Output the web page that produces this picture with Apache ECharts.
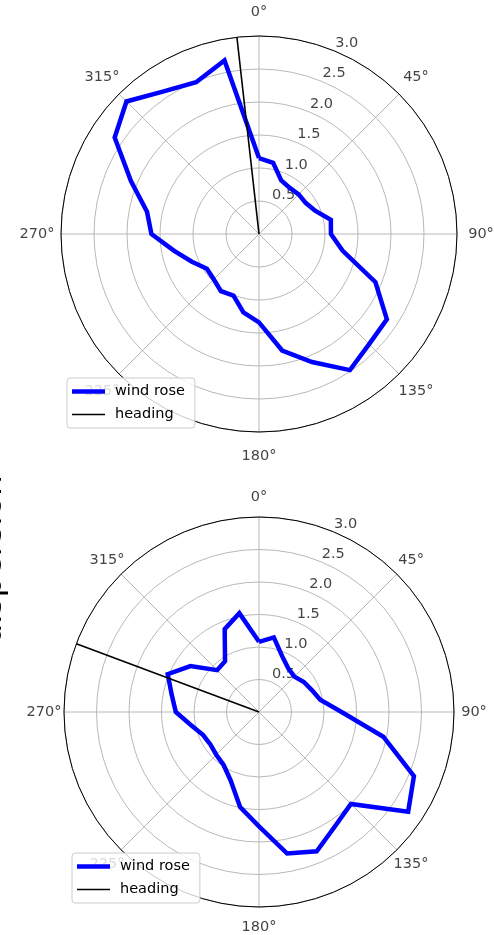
<!DOCTYPE html>
<html>
<head>
<meta charset="utf-8">
<script src="https://cdn.jsdelivr.net/npm/echarts@6/dist/echarts.min.js"></script>
<style>
  html, body { margin: 0; padding: 0; background: #ffffff; }
  #chart { width: 494px; height: 935px; }
</style>
</head>
<body>
<div id="chart"></div>
<script>
// Direction bins (degrees, clockwise from north)
const directions = [0, 11.25, 22.5, 33.75, 45, 56.25, 67.5, 78.75,
                    90, 101.25, 112.5, 123.75, 135, 146.25, 157.5, 168.75,
                    180, 191.25, 202.5, 213.75, 225, 236.25, 247.5, 258.75,
                    270, 281.25, 292.5, 303.75, 315, 326.25, 337.5, 348.75];

// Wind rose magnitudes per bin
const topRose = [1.15, 1.10, 0.88, 0.84, 0.85, 0.85, 0.92, 1.11,
                 1.09, 1.29, 1.91, 2.33, 2.36, 2.48, 2.10, 1.80,
                 1.34, 1.21, 1.01, 1.04, 0.97, 0.95, 1.10, 1.31,
                 1.63, 1.73, 2.10, 2.63, 2.84, 2.60, 2.49, 2.68];
const bottomRose = [1.08, 1.17, 0.93, 0.81, 0.77, 0.83, 0.88, 0.96,
                    1.27, 1.95, 2.58, 2.76, 2.00, 2.11, 2.32, 2.22,
                    1.76, 1.49, 1.14, 0.98, 0.93, 0.90, 0.93, 1.06,
                    1.28, 1.37, 1.52, 1.27, 0.91, 0.94, 1.38, 1.55];

// Heading directions (degrees)
const topHeading = 353.6;
const bottomHeading = 290.5;

// Axis ticks
const radialTicks = [0.5, 1.0, 1.5, 2.0, 2.5, 3.0];
const angleTicks = [0, 45, 90, 135, 180, 225, 270, 315];
const radialMax = 3.0;
const radialLabelAngle = 22.5;

const FONT = 'DejaVu Sans';
const FS = 14.5;
const GRID = '#b0b0b0';
const TEXT = '#111111';

const panels = [
  { center: [259, 234], radius: 198, labelRadius: 222, rose: topRose, heading: topHeading, legend: { left: 67, top: 378 } },
  { center: [259, 712], radius: 195, labelRadius: 215, rose: bottomRose, heading: bottomHeading, legend: { left: 72, top: 853 } }
];

const polar = [], angleAxis = [], radiusAxis = [], series = [], legend = [];

panels.forEach((p, i) => {
  const main = i * 2, ring = i * 2 + 1;
  polar.push({ center: p.center, radius: p.radius });
  polar.push({ center: p.center, radius: p.labelRadius });

  angleAxis.push({
    polarIndex: main, type: 'value', min: 0, max: 360, interval: 45,
    startAngle: 90, clockwise: true,
    axisLine: { show: true, lineStyle: { color: '#000000', width: 1 } },
    axisTick: { show: false }, axisLabel: { show: false },
    splitLine: { show: true, lineStyle: { color: GRID, width: 0.9 } }
  });
  radiusAxis.push({
    polarIndex: main, type: 'value', min: 0, max: radialMax, interval: 0.5,
    axisLine: { show: false }, axisTick: { show: false }, axisLabel: { show: false },
    splitLine: { show: true, lineStyle: { color: GRID, width: 0.9 } }
  });
  angleAxis.push({ polarIndex: ring, type: 'value', min: 0, max: 360, startAngle: 90, clockwise: true, show: false });
  radiusAxis.push({ polarIndex: ring, type: 'value', min: 0, max: 1, show: false });

  const roseData = p.rose.map((r, k) => [r, directions[k]]);
  roseData.push([p.rose[0], 360]);

  series.push({
    name: 'wind rose', type: 'line', coordinateSystem: 'polar', polarIndex: main,
    data: roseData, symbol: 'none', smooth: false, z: 3,
    lineStyle: { color: '#0000ff', width: 4.5, join: 'miter' },
    itemStyle: { color: '#0000ff' }
  });
  series.push({
    name: 'heading', type: 'line', coordinateSystem: 'polar', polarIndex: main,
    data: [[0, p.heading], [radialMax, p.heading]], symbol: 'none', z: 4,
    lineStyle: { color: '#000000', width: 1.6 },
    itemStyle: { color: '#000000' }
  });
  // radial tick labels
  series.push({
    type: 'scatter', coordinateSystem: 'polar', polarIndex: main, z: 2,
    data: radialTicks.map(v => [v, radialLabelAngle]), symbolSize: 0, silent: true,
    label: {
      show: true, position: 'inside', offset: [12, -8],
      formatter: q => q.value[0].toFixed(1),
      fontFamily: FONT, fontSize: FS, color: TEXT
    }
  });
  // angle tick labels
  series.push({
    type: 'scatter', coordinateSystem: 'polar', polarIndex: ring, z: 2,
    data: angleTicks.map(a => [1, a]), symbolSize: 0, silent: true,
    label: {
      show: true, position: 'inside',
      formatter: q => q.value[1] + '°',
      fontFamily: FONT, fontSize: FS, color: TEXT
    }
  });

  legend.push({
    orient: 'vertical', left: p.legend.left, top: p.legend.top,
    itemWidth: 33, itemHeight: 14, itemGap: 8,
    padding: [6, 10, 6, 5],
    backgroundColor: 'rgba(255,255,255,0.8)', borderColor: '#cccccc', borderWidth: 1, borderRadius: 3,
    selectedMode: false,
    itemStyle: { borderWidth: 0 },
    textStyle: { fontFamily: FONT, fontSize: FS, color: '#000000', padding: [0, 0, 0, 5] },
    data: [
      { name: 'wind rose', icon: 'path://M0,0 L33,0 L33,4.5 L0,4.5 Z', itemStyle: { color: '#0000ff' } },
      { name: 'heading', icon: 'path://M0,0 L33,0 L33,1.6 L0,1.6 Z', itemStyle: { color: '#000000' } }
    ]
  });
});

const chart = echarts.init(document.getElementById('chart'), null, { renderer: 'canvas' });
chart.setOption({
  backgroundColor: '#ffffff',
  animation: false,
  polar, angleAxis, radiusAxis, series, legend,
  graphic: [{
    type: 'text', rotation: Math.PI / 2, x: 9, y: 560, silent: true,
    style: { text: 'dispersion', font: '33px "DejaVu Sans"', align: 'center', verticalAlign: 'bottom', fill: '#000000' }
  }]
});
</script>
</body>
</html>
